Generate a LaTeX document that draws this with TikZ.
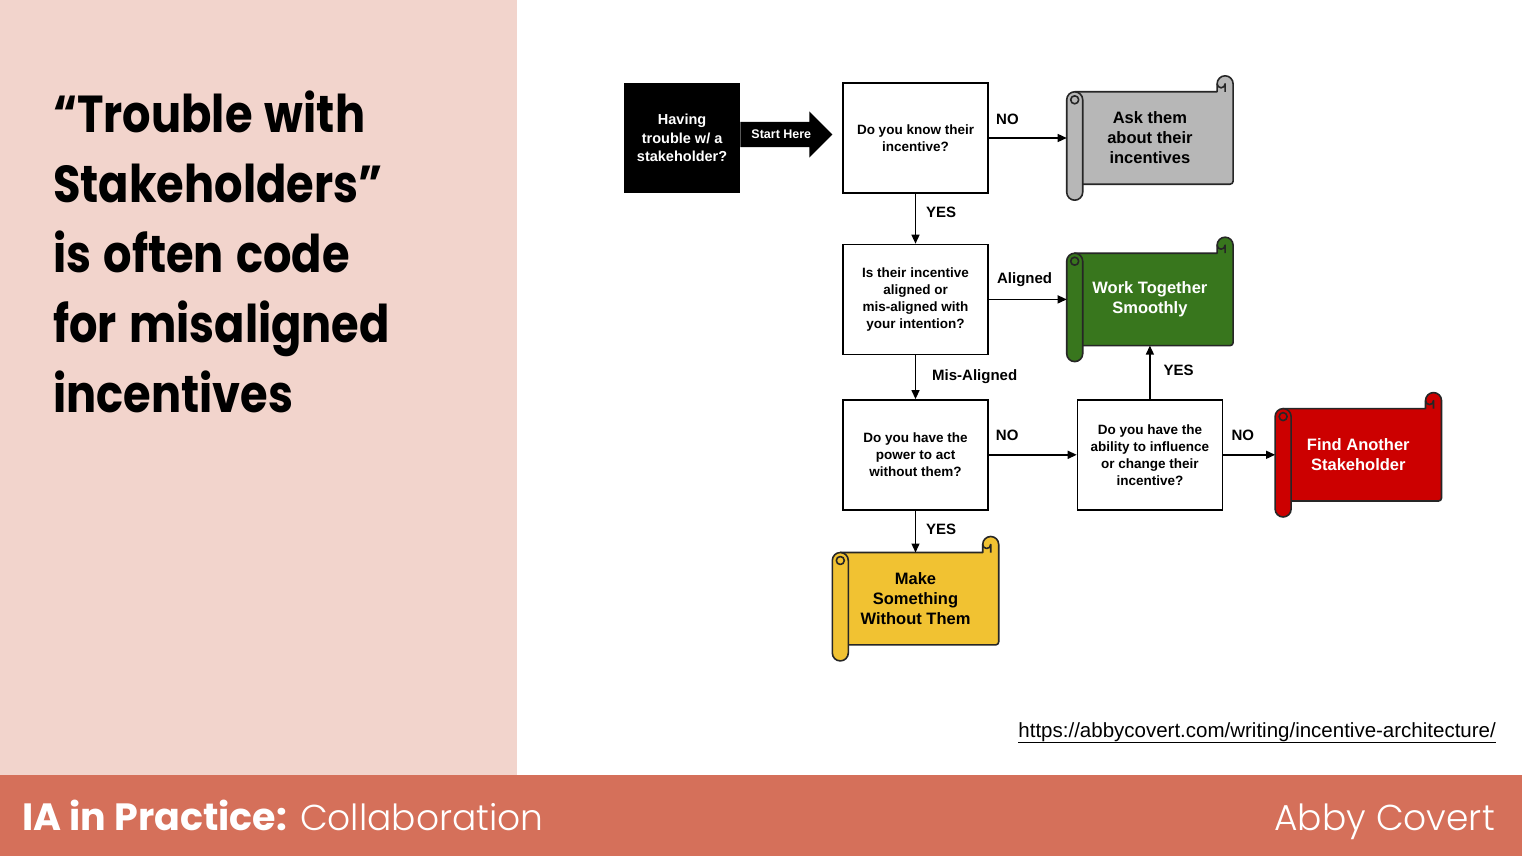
\documentclass[tikz,border=0pt]{standalone}
\usepackage{fontspec}
\setmainfont{Liberation Sans}
\newfontfamily\titlefont{Poppins}[FakeStretch=0.86, WordSpace=1.3]
\newfontfamily\footfont{Poppins}
\newfontfamily\footlight{Poppins Light}
\usetikzlibrary{positioning, calc, backgrounds, arrows.meta}

\definecolor{panelpink}{HTML}{F2D4CC}
\definecolor{footred}{HTML}{D5705A}
\definecolor{scrollgray}{HTML}{B7B7B7}
\definecolor{scrollgreen}{HTML}{38761D}
\definecolor{scrollred}{HTML}{CC0000}
\definecolor{scrollyellow}{HTML}{F1C232}

\newcommand{\boxfont}{\bfseries\fontsize{13.5}{17}\selectfont}
\newcommand{\scrollfont}{\bfseries\fontsize{16.5}{20}\selectfont}
\newcommand{\labelfont}{\bfseries\fontsize{15}{18}\selectfont}

\tikzstyle{question} = [rectangle, draw=black, line width=1.4pt, minimum width=145pt, minimum height=110pt, align=center, font=\boxfont]
\tikzstyle{startbox} = [rectangle, fill=black, text=white, minimum width=116pt, minimum height=110pt, align=center, font=\bfseries\fontsize{14.5}{18.5}\selectfont]
\tikzstyle{scroll} = [rectangle, minimum width=166pt, minimum height=92pt, align=center, font=\scrollfont]
\tikzstyle{scrollline} = [draw=black!85, line width=1.6pt, line join=round]
\tikzstyle{arrow} = [line width=1.4pt, -{Triangle[length=9pt,width=8pt]}]
\tikzstyle{answer} = [font=\labelfont, inner sep=2pt]

% scroll drawn behind a node: #1 node, #2 fill colour
\newcommand{\scrollshape}[2]{%
  \begin{scope}[on background layer]
    \draw[scrollline, fill=#2] ($(#1.north west)+(8,0)$) -- ($(#1.north east)+(-16,0)$)
      -- ($(#1.north east)+(-16,8)$) arc[start angle=180, end angle=0, radius=8]
      -- ($(#1.south east)+(0,3)$) arc[start angle=0, end angle=-90, radius=3]
      -- ($(#1.south west)+(8,0)$) -- cycle;
    \draw[scrollline] ($(#1.north east)+(-8,0)$) -- ($(#1.north east)+(-8,8)$)
      arc[start angle=0, end angle=-180, radius=4];
    \draw[scrollline, fill=#2] ($(#1.north west)+(0,-8)$) arc[start angle=180, end angle=0, radius=8]
      -- ($(#1.south west)+(16,-8)$) arc[start angle=0, end angle=-180, radius=8] -- cycle;
    \draw[scrollline, fill=#2] ($(#1.north west)+(8,-8)$) circle[radius=4];
  \end{scope}}

\begin{document}
\begin{tikzpicture}[x=1pt, y=1pt]
  \useasboundingbox (0,0) rectangle (1522,-856);
  \begin{scope}[on background layer]
    \fill[white] (0,0) rectangle (1522,-856);
  \end{scope}
  \fill[panelpink] (0,0) rectangle (517,-775);
  \fill[footred] (0,-775) rectangle (1522,-856);

  % left title
  \node (title) [anchor=north west, inner sep=0, align=left, font=\titlefont\bfseries\fontsize{52}{70}\selectfont] at (53,-91) {“Trouble with\\Stakeholders”\\is often code\\for misaligned\\incentives};

  % footer
  \node (series) [anchor=base west, inner sep=0, text=white] at (22,-830) {{\footfont\bfseries\fontsize{38}{40}\selectfont IA in Practice:}{\footlight\fontsize{36}{40}\selectfont{} Collaboration}};
  \node (author) [anchor=base east, inner sep=0, text=white, font=\footlight\fontsize{36}{40}\selectfont] at (1495,-830) {Abby Covert};
  \node (url) [anchor=base east, inner sep=0, font=\fontsize{20.5}{22}\selectfont] at (1496,-737) {\underline{https://abbycovert.com/writing/incentive-architecture/}};

  % flowchart
  \node (box1) [question] at (915.5,-138) {Do you know their\\incentive?};
  \node (start) [startbox, left=102pt of box1] {Having\\trouble w/ a\\stakeholder?};
  \node (box2) [question, below=50pt of box1] {Is their incentive\\aligned or\\mis-aligned with\\your intention?};
  \node (box3) [question, below=44pt of box2] {Do you have the\\power to act\\without them?};
  \node (box4) [question, right=88pt of box3] {Do you have the\\ability to influence\\or change their\\incentive?};
  \node (ask) [scroll, right=78pt of box1] {Ask them\\about their\\incentives};
  \node (together) [scroll, text=white, right=78pt of box2] {Work Together\\Smoothly};
  \node (another) [scroll, text=white, right=52pt of box4] {Find Another\\Stakeholder};
  \node (make) [scroll, below=42pt of box3] {Make\\Something\\Without Them};
  \scrollshape{ask}{scrollgray}
  \scrollshape{together}{scrollgreen}
  \scrollshape{another}{scrollred}
  \scrollshape{make}{scrollyellow}

  % start arrow
  \coordinate (tail) at ($(start.east)+(0,3.5)$);
  \coordinate (tip) at ($(box1.west)+(-10,3.5)$);
  \fill[black] ($(tail)+(0,12.5)$) -- ($(tip)+(-23,12.5)$) -- ($(tip)+(-23,23)$) -- (tip)
    -- ($(tip)+(-23,-23)$) -- ($(tip)+(-23,-12.5)$) -- ($(tail)+(0,-12.5)$) -- cycle;
  \node (starthere) [text=white, inner sep=0, font=\bfseries\fontsize{12.5}{14}\selectfont] at ($(tail)!0.5!(tip)+(-5,0)$) {Start Here};

  \draw[arrow] (box1.east) -- node[answer, pos=0.24, above=11pt] {NO} (ask.west);
  \draw[arrow] (box1.south) -- node[answer, pos=0.37, right=8pt] {YES} (box2.north);
  \draw[arrow] (box2.east) -- node[answer, pos=0.46, above=10pt] {Aligned} (together.west);
  \draw[arrow] (box2.south) -- node[answer, pos=0.48, right=14pt] {Mis-Aligned} (box3.north);
  \draw[arrow] (box3.east) -- node[answer, pos=0.21, above=11pt] {NO} (box4.west);
  \draw[arrow] (box4.north) -- node[answer, pos=0.53, right=11pt] {YES} (box4.north |- together.south);
  \draw[arrow] (box4.east) -- node[answer, pos=0.38, above=11pt] {NO} (another.west);
  \draw[arrow] (box3.south) -- node[answer, pos=0.45, right=8pt] {YES} (make.north);
\end{tikzpicture}
\end{document}
